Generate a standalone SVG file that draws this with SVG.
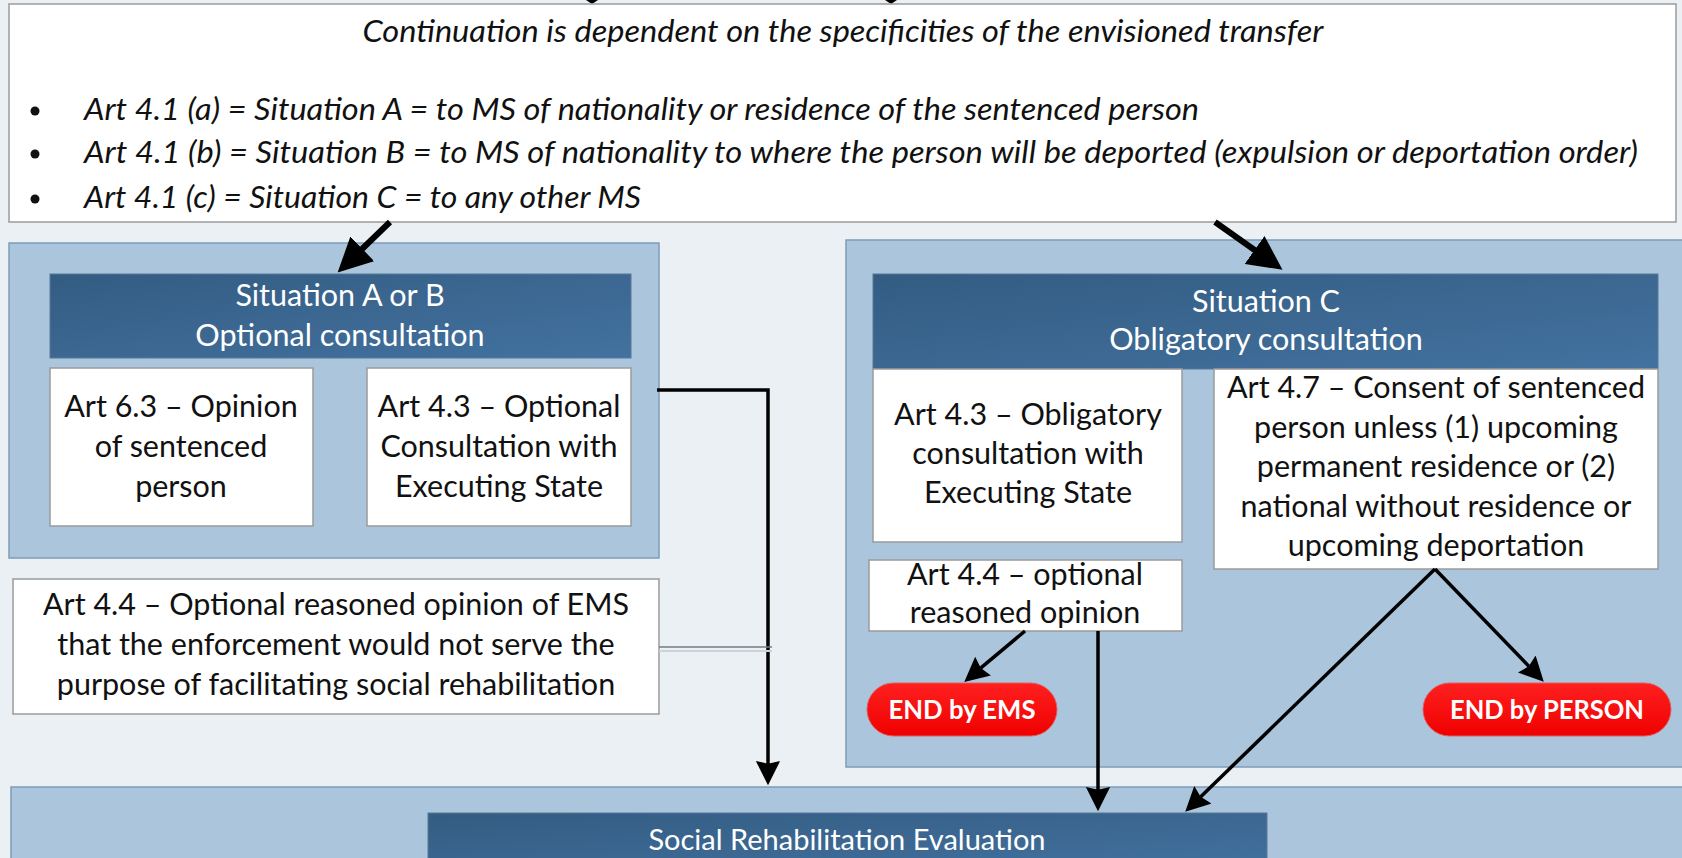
<svg xmlns="http://www.w3.org/2000/svg" width="1682" height="858" viewBox="0 0 1682 858">
<defs>
<linearGradient id="hdr" x1="0" y1="0" x2="1" y2="1">
<stop offset="0" stop-color="#335c82"/>
<stop offset="1" stop-color="#4372a0"/>
</linearGradient>
<linearGradient id="red" x1="0" y1="0" x2="0" y2="1">
<stop offset="0" stop-color="#ff2020"/>
<stop offset="1" stop-color="#f00000"/>
</linearGradient>
<marker id="big" viewBox="0 0 10 10" refX="0.5" refY="5" markerWidth="5.7" markerHeight="5.8" orient="auto" markerUnits="strokeWidth">
<path d="M0,0 L10,5 L0,10 z" fill="#000"/>
</marker>
<marker id="sm" viewBox="0 0 10 10" refX="1.3" refY="5" markerWidth="7.5" markerHeight="7" orient="auto" markerUnits="strokeWidth">
<path d="M0,0 L10,5 L0,10 L1.2,5 z" fill="#000"/>
</marker>
<style>
.panel{fill:#abc6dc;stroke:#7f9cb8;stroke-width:1.5}
.hdr{fill:url(#hdr);stroke:#5b7896;stroke-width:1}
.box{fill:#fff;stroke:#9a9a9a;stroke-width:1.5}
.pill{fill:url(#red);stroke:#e06060;stroke-width:1}
.t{font-family:Lato,"Liberation Sans",sans-serif;font-size:30.5px;fill:#111;text-anchor:middle}
.w{fill:#fff}
.it{font-family:Lato,"Liberation Sans",sans-serif;font-size:30px;font-style:italic;fill:#111}
.b{font-weight:bold;font-size:27px}
.thick{stroke:#000;stroke-width:6;fill:none}
.thin{stroke:#000;stroke-width:3.5;fill:none}
</style>
</defs>
<rect x="0" y="0" width="1682" height="858" fill="#ebf0f5"/>

<g id="top-stubs">
<polygon points="586,0 598,0 592,4" fill="#000"/>
<polygon points="885,0 897,0 891,4" fill="#000"/>
</g>

<g id="top-box">
<rect x="9" y="4" width="1667" height="218" fill="#fff" stroke="#9a9a9a" stroke-width="1.5"/>
<text class="it" x="843" y="42" text-anchor="middle" textLength="961" lengthAdjust="spacingAndGlyphs">Continuation is dependent on the specificities of the envisioned transfer</text>
<circle cx="35" cy="111" r="4.5" fill="#111"/>
<circle cx="35" cy="154" r="4.5" fill="#111"/>
<circle cx="35" cy="199" r="4.5" fill="#111"/>
<text class="it" x="84" y="120" textLength="1115" lengthAdjust="spacingAndGlyphs">Art 4.1 (a) = Situation A = to MS of nationality or residence of the sentenced person</text>
<text class="it" x="84" y="163" textLength="1554" lengthAdjust="spacingAndGlyphs">Art 4.1 (b) = Situation B = to MS of nationality to where the person will be deported (expulsion or deportation order)</text>
<text class="it" x="84" y="208" textLength="557" lengthAdjust="spacingAndGlyphs">Art 4.1 (c) = Situation C = to any other MS</text>
</g>

<g id="panel-ab">
<rect class="panel" x="9" y="243" width="650" height="315"/>
</g>
<g id="header-ab">
<rect class="hdr" x="50" y="274" width="581" height="84"/>
<text class="t w" x="340" y="306">Situation A or B</text>
<text class="t w" x="340" y="346">Optional consultation</text>
</g>
<g id="art63">
<rect class="box" x="50" y="368" width="263" height="158"/>
<text class="t" x="181" y="417">Art 6.3 – Opinion</text>
<text class="t" x="181" y="457">of sentenced</text>
<text class="t" x="181" y="497">person</text>
</g>
<g id="art43-opt">
<rect class="box" x="367" y="368" width="264" height="158"/>
<text class="t" x="499" y="417">Art 4.3 – Optional</text>
<text class="t" x="499" y="457">Consultation with</text>
<text class="t" x="499" y="497">Executing State</text>
</g>
<g id="art44-left">
<rect class="box" x="13" y="579" width="646" height="135"/>
<text class="t" x="336" y="615" textLength="586" lengthAdjust="spacingAndGlyphs">Art 4.4 – Optional reasoned opinion of EMS</text>
<text class="t" x="336" y="655">that the enforcement would not serve the</text>
<text class="t" x="336" y="695">purpose of facilitating social rehabilitation</text>
</g>

<g id="panel-c">
<rect class="panel" x="846" y="240" width="845" height="527"/>
</g>
<g id="header-c">
<rect class="hdr" x="873" y="274" width="785" height="95"/>
<text class="t w" x="1266" y="312">Situation C</text>
<text class="t w" x="1266" y="350">Obligatory consultation</text>
</g>
<g id="art43-obl">
<rect class="box" x="873" y="369" width="309" height="173"/>
<text class="t" x="1028" y="425">Art 4.3 – Obligatory</text>
<text class="t" x="1028" y="464">consultation with</text>
<text class="t" x="1028" y="503">Executing State</text>
</g>
<g id="art47">
<rect class="box" x="1214" y="369" width="444" height="200"/>
<text class="t" x="1436" y="398">Art 4.7 – Consent of sentenced</text>
<text class="t" x="1436" y="438">person unless (1) upcoming</text>
<text class="t" x="1436" y="477">permanent residence or (2)</text>
<text class="t" x="1436" y="517">national without residence or</text>
<text class="t" x="1436" y="556">upcoming deportation</text>
</g>
<g id="art44-opt">
<rect class="box" x="869" y="560" width="313" height="71"/>
<text class="t" x="1025" y="585">Art 4.4 – optional</text>
<text class="t" x="1025" y="623">reasoned opinion</text>
</g>
<g id="end-ems">
<rect class="pill" x="867" y="683" width="190" height="53" rx="26.5"/>
<text class="t w b" x="962" y="719" textLength="147" lengthAdjust="spacingAndGlyphs">END by EMS</text>
</g>
<g id="end-person">
<rect class="pill" x="1423" y="683" width="248" height="53" rx="26.5"/>
<text class="t w b" x="1547" y="719" textLength="194" lengthAdjust="spacingAndGlyphs">END by PERSON</text>
</g>

<g id="panel-bottom">
<rect class="panel" x="11" y="787" width="1680" height="90"/>
</g>
<g id="social">
<rect class="hdr" x="428" y="813" width="839" height="60"/>
<text class="t w" x="847" y="850" style="font-size:29px">Social Rehabilitation Evaluation</text>
</g>

<g id="connectors">
<line class="thick" x1="390" y1="222" x2="361" y2="250" marker-end="url(#big)"/>
<line class="thick" x1="1215" y1="222" x2="1256" y2="251" marker-end="url(#big)"/>
<polyline class="thin" points="657,390 768,390 768,764" marker-end="url(#sm)"/>
<line x1="659" y1="647" x2="772" y2="647" stroke="#7a7a7a" stroke-width="1.5"/>
<line x1="659" y1="651" x2="772" y2="651" stroke="#c9d3dc" stroke-width="2"/>
<line class="thin" x1="1025" y1="631" x2="980.6" y2="668.2" marker-end="url(#sm)"/>
<line class="thin" x1="1098" y1="631" x2="1098" y2="790" marker-end="url(#sm)"/>
<line class="thin" x1="1435" y1="569" x2="1200.5" y2="797" marker-end="url(#sm)"/>
<line class="thin" x1="1435" y1="569" x2="1529" y2="666.4" marker-end="url(#sm)"/>
</g>
</svg>
